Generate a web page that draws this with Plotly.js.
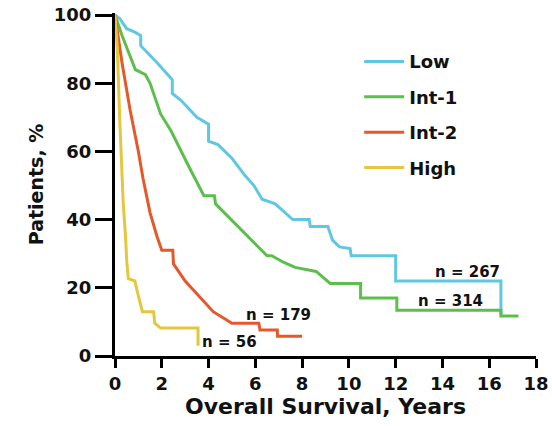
<!DOCTYPE html>
<html><head><meta charset="utf-8">
<script src="https://cdn.plot.ly/plotly-3.0.1.min.js"></script>
<style>html,body{margin:0;padding:0;background:#fff}#chart{width:552px;height:426px}</style>
</head><body><div id="chart"></div>
<script>
const seriesNames = ['Low', 'Int-1', 'Int-2', 'High'];
const lowT = [0,0.2,0.5,0.85,1.1,1.1,1.8,2.45,2.45,2.82,3.5,4.0,4.0,4.4,5.0,5.55,5.94,6.29,6.85,7.6,8.3,8.35,9.1,9.3,9.6,10.05,10.1,12.0,12.0,16.5,16.5];
const lowS = [100,99,96,95,94,91,86,81,77,75,70,68,63,62,58,53,50,46,44.6,40,40,38,38,34,32,31.5,29.4,29.4,22,22,12];
const int1T = [0,0.3,0.87,1.3,1.5,1.95,2.4,2.82,3.2,3.8,4.25,4.3,5.4,6.0,6.5,6.7,7.2,7.7,8.6,9.2,10.5,10.5,12.05,12.05,16.5,16.5,17.25];
const int1S = [100,94,84,82.5,80,71,66,60,55,47,47,44.6,37,33,29.4,29.4,27.5,26,24.8,21.3,21.3,17,17,13.4,13.4,11.7,11.7];
const int2T = [0,0.15,0.3,0.65,1.0,1.2,1.5,1.8,2.0,2.47,2.5,3.0,3.55,4.2,5.0,6.15,6.2,6.94,6.95,8.0];
const int2S = [100,93,86,72,60,52,42,35,31,31,27,22,17.8,13,9.6,9.6,7.6,7.6,5.8,5.8];
const highT = [0,0.1,0.2,0.3,0.35,0.45,0.5,0.57,0.85,0.95,1.1,1.17,1.65,1.7,1.95,3.55,3.55];
const highS = [100,90,70,52,45,35,28,22.7,22,19,15,13,13,9.6,8.2,8.2,3];
const colors = ['#5fc7e2', '#5cbf4c', '#e5582c', '#e4c73e'];
const nLabels = ['n = 267', 'n = 314', 'n = 179', 'n = 56'];
const nLabelX = [15.07, 14.34, 7.0, 4.9];
const nLabelY = [24.6, 16.1, 12.0, 4.1];
const xTicks = [0,2,4,6,8,10,12,14,16,18];
const yTicks = [0,20,40,60,80,100];

const FONT = 'DejaVu Sans, sans-serif';
const xs = [lowT, int1T, int2T, highT];
const ys = [lowS, int1S, int2S, highS];
const traces = seriesNames.map((n, i) => ({
  x: xs[i], y: ys[i], name: n, type: 'scatter', mode: 'lines', legendgroup: 'g' + i,
  line: {color: colors[i], width: 3}
}));
const annotations = nLabels.map((t, i) => ({
  x: nLabelX[i], y: nLabelY[i], xref: 'x', yref: 'y', text: t,
  showarrow: false, font: {family: FONT, size: 15, color: '#111', weight: 'bold'}
}));
const layout = {
  width: 552, height: 426,
  margin: {l: 115, r: 16, t: 13, b: 70},
  paper_bgcolor: '#fff', plot_bgcolor: '#fff',
  showlegend: true,
  legend: {x: 0.58, y: 0.912, xanchor: 'left', yanchor: 'top', bgcolor: 'rgba(0,0,0,0)',
    font: {family: FONT, size: 18, color: '#111', weight: 'bold'}, itemwidth: 40, tracegroupgap: 9},
  xaxis: {range: [0, 18], tickvals: xTicks, showgrid: false, zeroline: false,
    showline: true, linecolor: '#000', linewidth: 3, ticks: 'outside', ticklen: 9, tickwidth: 3, tickcolor: '#000',
    tickfont: {family: FONT, size: 18, color: '#111', weight: 'bold'},
    title: {text: 'Overall Survival, Years', font: {family: FONT, size: 22, color: '#111', weight: 'bold'}, standoff: 4}},
  yaxis: {range: [0, 100.6], tickvals: yTicks, showgrid: false, zeroline: false,
    showline: true, linecolor: '#000', linewidth: 3, ticks: 'outside', ticklen: 17, tickwidth: 3, tickcolor: '#000',
    tickfont: {family: FONT, size: 18, color: '#111', weight: 'bold'},
    title: {text: 'Patients, %', font: {family: FONT, size: 19, color: '#111', weight: 'bold'}, standoff: 6}},
  annotations: annotations
};
Plotly.newPlot('chart', traces, layout, {displayModeBar: false, staticPlot: true});
</script></body></html>
